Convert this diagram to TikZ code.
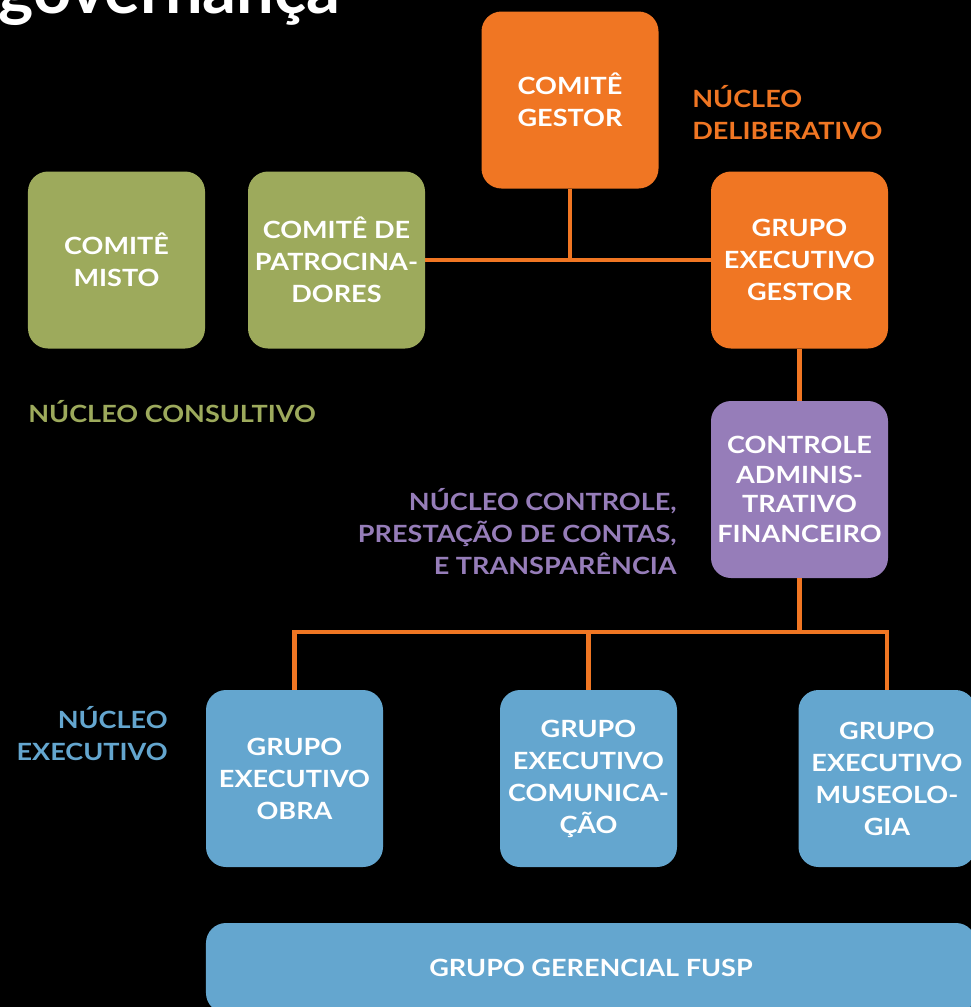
\documentclass[tikz,border=0pt]{standalone}
\usepackage{fontspec}
\setmainfont{Lato}
\newfontfamily\caixafont{Lato}[FakeStretch=1.14]
\usetikzlibrary{positioning}
\definecolor{laranja}{HTML}{F07623}
\definecolor{verde}{HTML}{9DAA5C}
\definecolor{roxo}{HTML}{967DB9}
\definecolor{azul}{HTML}{64A6CF}

\begin{document}
\begin{tikzpicture}[x=0.2mm,y=-0.2mm,
		caixa/.style={rounded corners=4mm,minimum width=35.4mm,minimum height=35.4mm,inner sep=0pt,text=white,align=center,font=\caixafont\fontsize{13.5}{18.2}\selectfont\bfseries},
		liga/.style={draw=laranja,line width=0.9mm},
		rotulo/.style={inner sep=0pt,font=\caixafont\fontsize{13.5}{18.2}\selectfont\bfseries}]
		\useasboundingbox (0,0) rectangle (971,1007);
		\fill[black] (0,0) rectangle (971,1007);
		\clip (0,0) rectangle (971,1007);
		\node[anchor=base west,inner sep=0pt,text=white,font=\fontsize{38}{40}\selectfont\bfseries] (titulo) at (-2,13) {governança};
		% nucleo deliberativo
		\node[caixa,fill=laranja] (gestor) at (570,100) {COMITÊ\\GESTOR};
		\node[caixa,fill=laranja] (geg) at (799.5,260) {GRUPO\\EXECUTIVO\\GESTOR};
		\node[rotulo,laranja,anchor=west,align=left] (deliberativo) at (692,113) {NÚCLEO\\DELIBERATIVO};
		% nucleo consultivo
		\node[caixa,fill=verde] (misto) at (116.5,260) {COMITÊ\\MISTO};
		\node[caixa,fill=verde] (patro) at (336.5,260) {COMITÊ DE\\PATROCINA-\\DORES};
		\node[rotulo,verde,anchor=west] (consultivo) at (28,412) {NÚCLEO CONSULTIVO};
		% nucleo controle
		\node[caixa,fill=roxo,font=\caixafont\fontsize{13.5}{16.8}\selectfont\bfseries] (controle) at (799.5,489.5) {CONTROLE\\ADMINIS-\\TRATIVO\\FINANCEIRO};
		\node[rotulo,roxo,anchor=east,align=right] (transparencia) at (677,532) {NÚCLEO CONTROLE,\\PRESTAÇÃO DE CONTAS,\\E TRANSPARÊNCIA};
		% nucleo executivo
		\node[caixa,fill=azul] (obra) at (294.5,778.5) {GRUPO\\EXECUTIVO\\OBRA};
		\node[caixa,fill=azul] (comunic) at (588.5,778.5) {GRUPO\\EXECUTIVO\\COMUNICA-\\ÇÃO};
		\node[caixa,fill=azul] (museo) at (887,778.5) {GRUPO\\EXECUTIVO\\MUSEOLO-\\GIA};
		\node[rotulo,azul,anchor=east,align=right] (executivo) at (168,734) {NÚCLEO\\EXECUTIVO};
		\node[caixa,fill=azul,minimum width=154mm,minimum height=18mm] (fusp) at (591,968) {GRUPO GERENCIAL FUSP};
		\coordinate (barra) at (589,632);
		\draw[liga] (patro.east) -- (geg.west);
		\draw[liga] (gestor.south) -- (gestor.south |- geg.west);
		\draw[liga] (geg.south) -- (controle.north);
		\draw[liga] (controle.south) -- (controle.south |- barra);
		\draw[liga] (obra.north) -- (obra.north |- barra) -- (museo.north |- barra) -- (museo.north);
		\draw[liga] (comunic.north) -- (comunic.north |- barra);
\end{tikzpicture}
\end{document}
